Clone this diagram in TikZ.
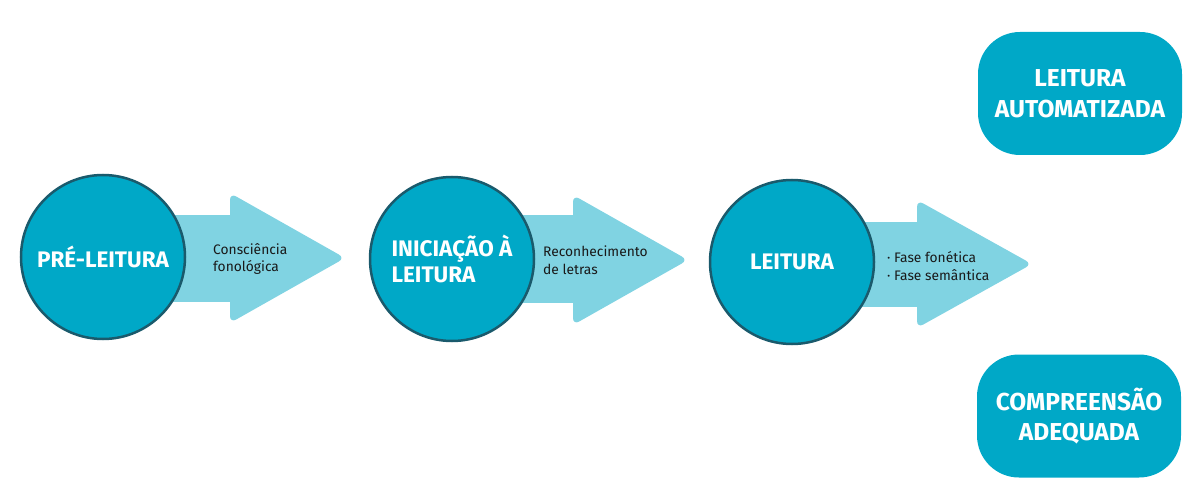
\documentclass[tikz,border=0pt]{standalone}
\usepackage{fontspec}
\setmainfont{Fira Sans}
\definecolor{mainc}{RGB}{0,168,199}
\definecolor{borderc}{RGB}{26,90,108}
\definecolor{arrowc}{RGB}{128,211,226}
\definecolor{textc}{RGB}{25,25,25}
\begin{document}
\begin{tikzpicture}[x=1pt,y=-1pt,
  circ/.style={circle, minimum size=164pt, inner sep=0pt, draw=borderc, line width=2.5pt, fill=mainc, text=white, align=left, font=\bfseries\fontsize{22.5}{26.5}\selectfont},
  rbox/.style={rectangle, rounded corners=42pt, minimum width=204pt, minimum height=123pt, inner sep=0pt, fill=mainc, text=white, align=center, font=\bfseries\fontsize{24.5}{30.5}\selectfont},
  small/.style={anchor=west, inner sep=0pt, align=left, text=textc, font=\fontsize{13.8}{17.5}\selectfont},
  abody/.style={fill=arrowc},
  ahead/.style={fill=arrowc, rounded corners=7pt}]
\useasboundingbox (0,0) rectangle (1200,500);
% arrows
\fill[abody] (110,215) rectangle (232,302);
\fill[ahead] (230,193) -- (345,258) -- (230,323) -- cycle;
\fill[abody] (455,215) rectangle (575,303);
\fill[ahead] (573,195) -- (688,260) -- (573,325) -- cycle;
\fill[abody] (795,222) rectangle (919,307);
\fill[ahead] (917,200) -- (1032,264) -- (917,328) -- cycle;
% circles
\node[circ] (c1) at (103,257) {PRÉ-LEITURA};
\node[circ] (c2) at (452,259) {INICIAÇÃO À\\LEITURA};
\node[circ] (c3) at (792,262) {LEITURA};
% arrow texts
\node[small] (t1) at (213,259) {Consciência\\fonológica};
\node[small] (t2) at (543,260) {Reconhecimento\\de letras};
\node[small] (t3) at (887,266) {· Fase fonética\\· Fase semântica};
% boxes
\node[rbox] (b1) at (1080,93.5) {LEITURA\\AUTOMATIZADA};
\node[rbox] (b2) at (1079,416) {COMPREENSÃO\\ADEQUADA};
\end{tikzpicture}
\end{document}
